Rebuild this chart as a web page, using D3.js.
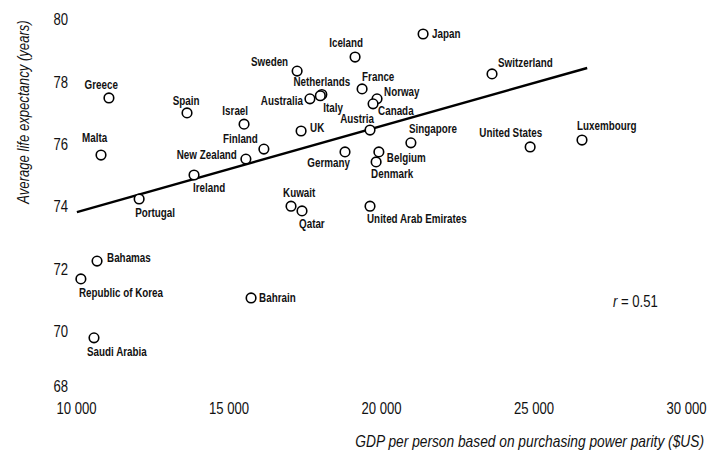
<!DOCTYPE html>
<html>
<head>
<meta charset="utf-8">
<script src="https://cdn.jsdelivr.net/npm/d3@7"></script>
<style>
  html, body { margin: 0; padding: 0; background: #fff; }
  svg { display: block; }
  text { font-family: "Liberation Sans", Arial, sans-serif; fill: #111; }
  .lbl { font-size: 12px; font-weight: bold; }
  .tick { font-size: 16px; }
  .title { font-size: 16px; font-style: italic; }
</style>
</head>
<body>
<script>
// ---- data ----
const countries = ["Japan","Iceland","Sweden","Netherlands","Australia","Italy","France","Norway","Canada","Austria",
  "UK","Singapore","Belgium","Denmark","Germany","Kuwait","Qatar","United Arab Emirates","Switzerland","United States",
  "Luxembourg","Greece","Malta","Spain","Israel","Finland","New Zealand","Ireland","Portugal","Bahamas",
  "Republic of Korea","Saudi Arabia","Bahrain"];
const gdp = [21380,19150,17250,18060,17670,18010,19380,19870,19740,19640,
  17380,20980,19930,19840,18820,17050,17410,19640,23640,24890,
  26590,11080,10820,13640,15510,16160,15570,13870,12070,10690,
  10160,10590,15740];
const lifeExp = [79.52,78.78,78.33,77.58,77.44,77.54,77.76,77.44,77.28,76.44,
  76.41,76.03,75.74,75.42,75.74,74.0,73.85,74.0,78.24,75.9,
  76.12,77.47,75.64,76.99,76.63,75.83,75.51,75.0,74.23,72.24,
  71.67,69.78,71.06];
const trendGdp = [10030, 26760];
const trendLife = [73.81, 78.43];
const xTicks = [10000, 15000, 20000, 25000, 30000];
const yTicks = [68, 70, 72, 74, 76, 78, 80];
const rText = "0.51";

// ---- label placement (style/position only) ----
const labelPos = {
  "Japan": [9, 4, "start"], "Iceland": [8, -10, "end"], "Sweden": [-9, -5, "end"],
  "Netherlands": [0, -9, "middle"], "Australia": [-7, 6, "end"], "Italy": [3, 16, "start"],
  "France": [0, -8, "start"], "Norway": [7, -3, "start"], "Canada": [5, 11, "start"],
  "Austria": [4, -7, "end"], "UK": [9, 1, "start"], "Singapore": [-2, -10, "start"],
  "Belgium": [8, 10, "start"], "Denmark": [-5, 16, "start"], "Germany": [5, 15, "end"],
  "Kuwait": [-8, -9, "start"], "Qatar": [-3, 17, "start"], "United Arab Emirates": [-3, 17, "start"],
  "Switzerland": [6, -7, "start"], "United States": [12, -10, "end"], "Luxembourg": [-5, -10, "start"],
  "Greece": [9, -9, "end"], "Malta": [-19, -13, "start"], "Spain": [-1, -8, "middle"],
  "Israel": [4, -9, "end"], "Finland": [-6, -6, "end"], "New Zealand": [-9, 0, "end"],
  "Ireland": [-1, 17, "start"], "Portugal": [-4, 18, "start"], "Bahamas": [10, 1, "start"],
  "Republic of Korea": [-2, 18, "start"], "Saudi Arabia": [-7, 18, "start"], "Bahrain": [8, 4, "start"]
};
const NARROW = 0.82; // horizontal compression to mimic a narrow typeface

const W = 714, H = 453;
const svg = d3.select("body").append("svg").attr("width", W).attr("height", H);

const x = d3.scaleLinear().domain([10000, 30000]).range([76, 686]);
const y = d3.scaleLinear().domain([68, 80]).range([393.4, 19]);

// y tick labels (no axis line)
const yAxis = d3.axisLeft(y).tickValues(yTicks).tickSize(0).tickPadding(0);
const gy = svg.append("g").attr("transform", "translate(68,0)").call(yAxis);
gy.select(".domain").remove();
gy.selectAll("text").attr("class", "tick").attr("font-family", null).attr("font-size", null)
  .attr("fill", "#111").attr("x", 0)
  .attr("dy", d => d === 68 ? "-0.1em" : "0.35em")
  .attr("transform", `scale(${NARROW},1)`);

// x tick labels
const fmt = v => d3.format(",")(v).replace(/,/g, " ");
const xAxis = d3.axisBottom(x).tickValues(xTicks).tickFormat(fmt).tickSize(0).tickPadding(0);
const gx = svg.append("g").attr("transform", "translate(0,414)").call(xAxis);
gx.select(".domain").remove();
gx.selectAll("text").attr("class", "tick").attr("font-family", null).attr("font-size", null)
  .attr("fill", "#111").attr("y", 0).attr("dy", "0")
  .attr("transform", `scale(${NARROW},1)`);

// axis titles
svg.append("text").attr("class", "title")
  .attr("transform", `translate(29,112) rotate(-90) scale(${NARROW},1)`)
  .attr("text-anchor", "middle")
  .text("Average life expectancy (years)");
svg.append("text").attr("class", "title")
  .attr("transform", `translate(704,447) scale(0.86,1)`)
  .attr("text-anchor", "end")
  .text("GDP per person based on purchasing power parity ($US)");

// trend line
const line = d3.line().x(d => x(d[0])).y(d => y(d[1]));
svg.append("path")
  .datum(trendGdp.map((g, i) => [g, trendLife[i]]))
  .attr("d", line)
  .attr("fill", "none").attr("stroke", "#000").attr("stroke-width", 2.4);

// points
const pts = countries.map((c, i) => ({ name: c, g: gdp[i], l: lifeExp[i] }));
svg.append("g").selectAll("circle").data(pts).join("circle")
  .attr("cx", d => x(d.g)).attr("cy", d => y(d.l)).attr("r", 4.8)
  .attr("fill", "#fff").attr("stroke", "#000").attr("stroke-width", 1.6);

// labels
svg.append("g").selectAll("text").data(pts).join("text")
  .attr("class", "lbl")
  .attr("transform", d => `translate(${x(d.g) + labelPos[d.name][0]},${y(d.l) + labelPos[d.name][1]}) scale(${NARROW},1)`)
  .attr("text-anchor", d => labelPos[d.name][2])
  .text(d => d.name);

// r annotation
const rt = svg.append("text").attr("class", "tick")
  .attr("transform", `translate(613,307) scale(${NARROW},1)`);
rt.append("tspan").attr("font-style", "italic").text("r");
rt.append("tspan").text(" = " + rText);
</script>
</body>
</html>
